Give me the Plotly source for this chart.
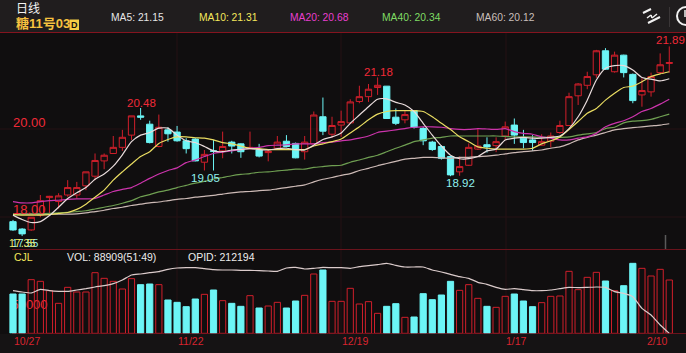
import plotly.graph_objects as go

W, H = 686, 353

opens = [17.88,17.71,17.69,18.03,18.43,18.34,18.49,18.49,18.70,18.92,19.27,19.44,19.58,19.86,20.30,20.11,19.60,19.98,19.93,19.73,19.77,19.24,19.50,19.50,
         19.70,19.66,19.55,19.52,19.46,19.56,19.72,19.67,19.48,19.66,20.28,19.88,20.09,20.14,20.63,20.74,20.95,20.98,20.27,20.21,20.42,20.01,19.70,19.60,19.37,
         19.02,19.17,19.54,19.64,19.62,19.84,20.09,19.79,19.75,19.63,19.72,19.92,20.08,20.76,21.00,21.24,21.79,21.31,21.69,21.25,20.78,20.85,21.29,21.50]
highs = [17.92,17.73,17.98,18.49,18.47,18.53,18.83,18.79,19.02,19.44,19.44,19.84,19.98,20.30,20.48,20.19,20.33,20.04,20.07,19.79,19.79,19.52,19.75,19.94,
         19.73,19.67,19.94,19.66,19.53,19.84,19.86,19.69,19.84,20.40,20.72,20.28,20.42,20.68,20.99,21.03,21.18,20.98,20.47,20.42,20.43,20.05,19.73,19.63,19.38,
         19.37,19.67,20.02,19.81,19.81,20.17,20.24,19.98,19.86,19.88,19.92,20.19,20.83,21.05,21.31,21.81,21.85,21.77,21.70,21.27,21.16,21.29,21.73,21.89]
lows = [17.67,17.55,17.67,17.98,18.05,18.18,18.45,18.41,18.60,18.83,19.08,19.43,19.50,19.75,20.21,19.67,19.58,19.71,19.71,19.44,19.26,19.05,19.05,19.33,
        19.44,19.34,19.53,19.35,19.26,19.53,19.58,19.33,19.30,19.66,19.86,19.80,19.82,20.13,20.59,20.62,20.78,20.24,20.09,20.13,20.01,19.63,19.50,19.30,18.92,
        18.93,19.16,19.52,19.46,19.47,19.75,19.66,19.56,19.50,19.62,19.58,19.89,20.07,20.55,20.91,21.17,21.35,21.29,21.18,20.59,20.51,20.74,21.26,21.29]
closes = [17.69,17.60,17.98,18.36,18.46,18.47,18.66,18.66,19.02,19.28,19.40,19.58,19.81,20.30,20.27,19.69,20.04,19.89,19.73,19.55,19.27,19.42,19.49,19.60,
          19.61,19.48,19.58,19.38,19.49,19.70,19.60,19.34,19.70,20.32,19.95,20.08,20.17,20.62,20.74,20.91,21.00,20.24,20.13,20.33,20.04,19.73,19.53,19.33,18.95,
          19.14,19.58,19.61,19.59,19.71,20.05,19.86,19.69,19.69,19.71,19.84,20.08,20.74,21.03,21.20,21.79,21.37,21.69,21.29,20.65,20.88,21.20,21.47,21.52]

ma5 = [18.03,17.93,17.86,17.88,18.02,18.21,18.41,18.54,18.66,18.85,18.97,19.15,19.41,19.71,19.86,19.92,20.02,20.02,19.86,19.73,19.69,19.60,19.50,19.48,
       19.52,19.53,19.55,19.53,19.52,19.55,19.56,19.53,19.52,19.63,19.76,19.82,19.91,20.13,20.32,20.51,20.68,20.69,20.61,20.55,20.40,20.13,19.86,19.61,19.40,
       19.32,19.32,19.37,19.50,19.54,19.75,19.79,19.81,19.79,19.79,19.81,19.84,20.01,20.28,20.66,21.12,21.39,21.45,21.45,21.35,21.18,21.14,21.10,21.15]
ma10 = [18.04,18.03,18.03,18.03,18.04,18.07,18.09,18.16,18.28,18.44,18.60,18.83,19.02,19.20,19.37,19.48,19.67,19.76,19.82,19.82,19.80,19.79,19.75,19.69,
        19.66,19.61,19.56,19.55,19.53,19.53,19.53,19.53,19.53,19.61,19.66,19.71,19.77,19.91,20.05,20.21,20.34,20.40,20.42,20.42,20.42,20.40,20.28,20.13,19.99,
        19.82,19.71,19.59,19.56,19.54,19.54,19.54,19.54,19.56,19.66,19.73,19.82,19.99,20.17,20.36,20.47,20.66,20.82,20.95,20.98,21.08,21.20,21.26,21.31]
ma20 = [18.34,18.31,18.31,18.34,18.36,18.37,18.39,18.40,18.40,18.41,18.49,18.57,18.62,18.66,18.76,18.87,18.97,19.05,19.11,19.23,19.29,19.37,19.44,19.47,
        19.50,19.53,19.56,19.58,19.62,19.63,19.64,19.66,19.66,19.66,19.69,19.70,19.73,19.75,19.79,19.84,19.92,19.95,19.98,20.01,20.04,20.05,20.05,20.04,20.01,
        19.99,19.99,20.01,20.00,19.99,20.01,19.94,19.90,19.88,19.82,19.79,19.75,19.75,19.79,19.82,19.90,20.05,20.13,20.19,20.28,20.40,20.47,20.57,20.68]
ma40 = [18.05,18.05,18.05,18.06,18.07,18.08,18.09,18.11,18.13,18.17,18.21,18.25,18.30,18.36,18.45,18.50,18.56,18.60,18.66,18.71,18.76,18.80,18.85,18.89,
        18.93,18.96,18.98,19.01,19.02,19.04,19.06,19.08,19.08,19.12,19.14,19.16,19.17,19.24,19.29,19.35,19.40,19.48,19.56,19.63,19.71,19.75,19.79,19.81,19.84,
        19.84,19.84,19.84,19.84,19.84,19.83,19.82,19.82,19.82,19.81,19.81,19.81,19.82,19.86,19.89,19.92,20.01,20.04,20.14,20.18,20.19,20.22,20.28,20.34]
ma60 = [18.05,18.05,18.05,18.05,18.05,18.05,18.05,18.06,18.08,18.11,18.14,18.18,18.21,18.25,18.28,18.31,18.33,18.36,18.39,18.41,18.44,18.46,18.48,18.51,
        18.54,18.56,18.57,18.59,18.60,18.63,18.66,18.69,18.72,18.79,18.85,18.89,18.94,18.98,19.05,19.10,19.16,19.21,19.26,19.31,19.33,19.35,19.35,19.34,19.33,
        19.35,19.35,19.37,19.38,19.40,19.43,19.46,19.48,19.50,19.52,19.56,19.59,19.66,19.75,19.81,19.86,19.92,19.98,20.01,20.03,20.05,20.07,20.09,20.12]

volume = [65560,65560,89450,86670,71120,50000,76670,68890,68890,101100,91670,86670,73890,91110,81110,82220,81110,55560,51670,44440,57220,65000,72220,54440,
          50000,45000,62780,42220,45560,51670,42220,53890,63330,98890,105560,53330,53330,75000,48890,52780,33330,45000,49440,26670,27220,66110,56110,63890,86670,
          71670,81110,58330,45000,43330,61670,65560,53890,44440,51110,61670,62220,103330,72780,93330,101670,87220,71110,79440,116670,108330,95560,106670,88909]
opid = [231394,230794,230344,231994,231394,231094,231094,231694,232294,233044,233644,234544,236194,238444,238894,239494,239944,240994,241594,241744,241744,241294,240844,240694,
        240694,240544,240544,240394,240244,240094,241594,241894,241144,241444,241894,241744,241744,241444,242194,242644,243094,243694,242794,242044,242044,242044,240694,239794,238744,
        237694,236944,235144,234244,232894,231994,232294,231844,231394,231394,231694,232294,232894,232744,232894,233044,232894,230944,230194,228694,223444,220444,215944,212194]

date_idx = [1.5, 19.5, 37.5, 55.2, 70.7]
date_labels = ["10/27", "11/22", "12/19", "1/17", "2/10"]
legend_labels = ["MA5: 21.15", "MA10: 21.31", "MA20: 20.68", "MA40: 20.34", "MA60: 20.12"]

RED = "#d01f2b"
TXT_RED = "#f02a38"
CYAN = "#6cf5f6"
MA_COL = ["#e9dcdc", "#eadd62", "#cc34ac", "#6f9f52", "#cdbab6"]
LEG_COL = ["#e6e6e6", "#f4e85c", "#e83fd0", "#7fdc64", "#c9bfbb"]
SANS = "Liberation Sans, Arial, sans-serif"
CJK = "Liberation Sans, Noto Sans CJK SC, sans-serif"

x = list(range(len(opens)))


def px(v):
    return v / W


def py(v):
    return 1 - v / H


fig = go.Figure()

fig.add_trace(go.Candlestick(
    x=x, open=opens, high=highs, low=lows, close=closes, xaxis="x", yaxis="y",
    increasing=dict(line=dict(color=RED, width=1), fillcolor="rgba(0,0,0,0)"),
    decreasing=dict(line=dict(color=CYAN, width=1), fillcolor=CYAN),
    showlegend=False, hoverinfo="skip"))

for series, col in zip([ma60, ma40, ma20, ma10, ma5], MA_COL[::-1]):
    fig.add_trace(go.Scatter(x=x, y=series, mode="lines", xaxis="x", yaxis="y",
                             line=dict(color=col, width=1.2, shape="spline", smoothing=0.6),
                             showlegend=False, hoverinfo="skip"))

is_up = [c >= o for o, c in zip(opens, closes)]
fig.add_trace(go.Bar(
    x=x, y=volume, xaxis="x", yaxis="y2", width=0.68,
    marker=dict(color=["rgba(0,0,0,0)" if u else CYAN for u in is_up],
                line=dict(color=[RED if u else CYAN for u in is_up], width=1)),
    showlegend=False, hoverinfo="skip"))
fig.add_trace(go.Scatter(x=x, y=opid, mode="lines", xaxis="x", yaxis="y3",
                         line=dict(color="#dccccc", width=1.2, shape="spline", smoothing=0.5),
                         showlegend=False, hoverinfo="skip"))


def text(t, x0, y0, color, size, anchor="left", bold=False, family=SANS):
    fig.add_annotation(
        text=f"<b>{t}</b>" if bold else t, x=px(x0), y=py(y0), xref="paper", yref="paper",
        xanchor=anchor, yanchor="middle", showarrow=False, align=anchor,
        font=dict(color=color, size=size, family=family), borderpad=0, bgcolor="rgba(0,0,0,0)")


def rect(x0, y0, x1, y1, fill, layer="below", **kw):
    fig.add_shape(type="rect", xref="paper", yref="paper", x0=px(x0), x1=px(x1),
                  y0=py(y0), y1=py(y1), fillcolor=fill, line=dict(width=0), layer=layer, **kw)


def seg(x0, y0, x1, y1, color, width=1, dash=None, layer="below"):
    fig.add_shape(type="line", xref="paper", yref="paper", x0=px(x0), x1=px(x1),
                  y0=py(y0), y1=py(y1), line=dict(color=color, width=width, dash=dash), layer=layer)


rect(0, 0, W, 32, "#201d1e")
rect(0, 334, W, H, "#151314")
for vx in [177, 341, 506]:
    seg(vx, 33, vx, 333, "#241114", 1)
seg(0, 129, W, 129, "#241114", 1)
seg(0, 217, W, 217, "#241114", 1)
seg(0, 32.5, W, 32.5, "#84141f", 1)
seg(12, 249.5, W, 249.5, "#6a131c", 1)
seg(12, 333.5, W, 333.5, "#6a131c", 1)
seg(665.5, 235, 665.5, 249, "#5a5a5a", 1.5)
seg(665.5, 320, 665.5, 333, "#555050", 1.5)

# 50000 label sits behind the volume bars
fig.add_shape(type="rect", xref="paper", yref="paper", x0=px(11), x1=px(48), y0=py(311), y1=py(295),
              line=dict(width=0), fillcolor="rgba(0,0,0,0)", layer="below",
              label=dict(text="50000", font=dict(color=TXT_RED, size=13, family=SANS),
                         textposition="middle center"))

# header
text("日线", 15, 9, "#f4f4f4", 12, family=CJK)
text("糖11号03", 15, 24, "#f7c23f", 13, bold=True, family=CJK)
fig.add_shape(type="rect", xref="paper", yref="paper", x0=px(69.5), x1=px(79), y0=py(30), y1=py(19.5),
              fillcolor="#f5cf45", line=dict(width=0), layer="above")
text("D", 74.2, 24.8, "#15120f", 9, anchor="center", bold=True)
for t, xx, col in zip(legend_labels, [110, 198, 289, 381, 475], LEG_COL):
    text(t, xx, 17.5, col, 10.3)
seg(643, 13, 651, 9, "#f2f2f2", 2, layer="above")
seg(647, 18, 651, 15, "#f2f2f2", 1.5, layer="above")
seg(651, 15, 652, 18, "#f2f2f2", 1.5, layer="above")
seg(652, 18, 657, 14, "#f2f2f2", 1.5, layer="above")
seg(648, 23, 660, 17, "#f2f2f2", 2, layer="above")
seg(669.5, 7, 669.5, 27, "#3a3637", 1, layer="above")
fig.add_shape(type="circle", xref="paper", yref="paper", x0=px(677), x1=px(695), y0=py(25), y1=py(7),
              line=dict(color="#f2f2f2", width=2), layer="above")
seg(685, 10, 685, 17, "#f2f2f2", 1.5, layer="above")

# price labels
text("20.00", 12, 122.5, TXT_RED, 13)
text("18.00", 12, 210, TXT_RED, 13)
text("20.48", 141, 102.5, TXT_RED, 11.5, anchor="center")
text("21.18", 378.5, 72, TXT_RED, 11.5, anchor="center")
text("21.89", 670, 40, TXT_RED, 11.5, anchor="center")
text("19.05", 205, 178, "#8ff0ee", 11.5, anchor="center")
text("18.92", 460, 183, "#8ff0ee", 11.5, anchor="center")
text("17.55", 24.5, 243, "#8ff0ee", 10.5, anchor="center")
text("17.35", 22, 243, "#f2e860", 10.5, anchor="center")

# volume header
text("CJL", 13, 257, "#f4e85c", 10.5)
text("VOL: 88909(51:49)", 66, 257, "#ececec", 10.5)
text("OPID: 212194", 187, 257, "#ececec", 10.5)

for i, lab in zip(date_idx, date_labels):
    fig.add_annotation(text=lab, x=i, y=py(340.5), xref="x", yref="paper", xanchor="center",
                       yanchor="middle", showarrow=False,
                       font=dict(color="#d9242f", size=10.5, family=SANS))

P = 9.115
x_lo = -13 / P
x_hi = (W - 13) / P
vol_per_px = 1667
opid_per_px = 450

fig.update_layout(
    width=W, height=H, margin=dict(l=0, r=0, t=0, b=0), autosize=False,
    paper_bgcolor="#100e0f", plot_bgcolor="rgba(0,0,0,0)",
    boxgap=0.17, boxgroupgap=0.17, barmode="overlay", hovermode=False, dragmode=False,
    xaxis=dict(domain=[0, 1], range=[x_lo, x_hi], visible=False, fixedrange=True,
               rangeslider=dict(visible=False), anchor="y"),
    yaxis=dict(domain=[py(249), py(33)], range=[20 - 120 / 43.7, 20 + 96 / 43.7], visible=False,
               fixedrange=True, anchor="x"),
    yaxis2=dict(domain=[py(333.33), py(250)], range=[0, 83.33 * vol_per_px], visible=False,
                fixedrange=True, anchor="x"),
    yaxis3=dict(domain=[py(333.33), py(250)], range=[212194, 212194 + 83.33 * opid_per_px],
                visible=False, fixedrange=True, anchor="x", overlaying="y2"),
)

fig.write_html("out.html", config=dict(displayModeBar=False, staticPlot=True),
               post_script="document.body.style.margin='0';document.body.style.overflow='hidden';document.body.style.background='#100e0f';")
